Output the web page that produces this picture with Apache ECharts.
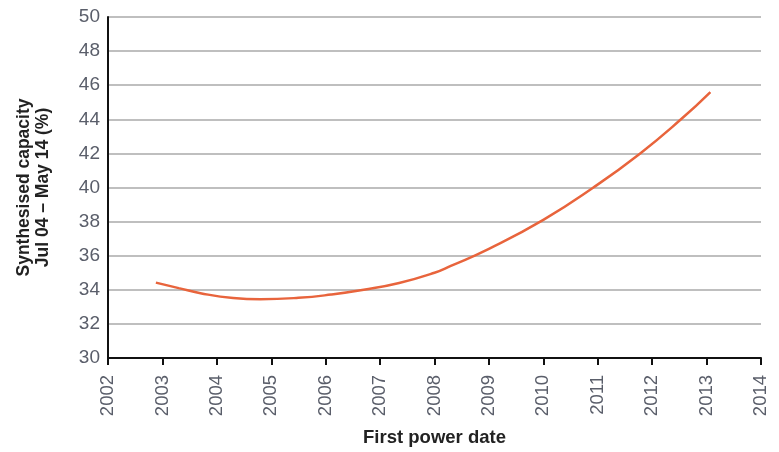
<!DOCTYPE html>
<html><head><meta charset="utf-8">
<script src="https://cdn.jsdelivr.net/npm/echarts@6/dist/echarts.min.js"></script>
<style>html,body{margin:0;padding:0;background:#fff}#c{width:779px;height:452px}</style>
</head><body><div id="c"></div>
<script>
const years = [2002.88, 2003.3, 2003.7, 2004.3, 2004.8, 2005.5, 2006.1, 2006.7, 2007.35, 2008.0, 2008.3, 2009.0, 2010.0, 2010.92, 2011.78, 2012.53, 2013.07];
const capacity = [34.42, 34.1, 33.8, 33.52, 33.45, 33.53, 33.72, 34.0, 34.4, 35.0, 35.4, 36.4, 38.1, 40.0, 42.0, 44.0, 45.6];
const xName = 'First power date';
const yName = 'Synthesised capacity\nJul 04 – May 14 (%)';

const chart = echarts.init(document.getElementById('c'));
chart.setOption({
  animation: false,
  grid: {left: 108, right: 18, top: 17, bottom: 91},
  xAxis: {
    type: 'value', min: 2002, max: 2014, interval: 1,
    name: xName, nameLocation: 'middle', nameGap: 70,
    nameTextStyle: {fontFamily: 'Liberation Sans', fontWeight: 'bold', fontSize: 18.5, color: '#222'},
    axisLine: {lineStyle: {color: '#111', width: 2}},
    axisTick: {show: true, length: 7, lineStyle: {color: '#111', width: 2}},
    axisLabel: {rotate: 90, margin: 17, fontFamily: 'Liberation Sans', fontSize: 18.5, color: '#5a5e6a',
      formatter: v => String(Math.round(v))},
    splitLine: {show: false}
  },
  yAxis: {
    type: 'value', min: 30, max: 50, interval: 2,
    name: yName, nameLocation: 'middle', nameGap: 55, nameRotate: 90,
    nameTextStyle: {fontFamily: 'Liberation Sans', fontWeight: 'bold', fontSize: 17.5, color: '#222', lineHeight: 19},
    axisLine: {show: true, lineStyle: {color: '#111', width: 2}},
    axisTick: {show: false},
    axisLabel: {margin: 8, fontFamily: 'Liberation Sans', fontSize: 19, color: '#5a5e6a'},
    splitLine: {show: true, lineStyle: {color: '#aaaaaa', width: 1.5}}
  },
  series: [{
    type: 'line', smooth: true, showSymbol: false,
    data: years.map((y, i) => [y, capacity[i]]),
    lineStyle: {color: '#e8643c', width: 2.5}
  }]
});
</script></body></html>
